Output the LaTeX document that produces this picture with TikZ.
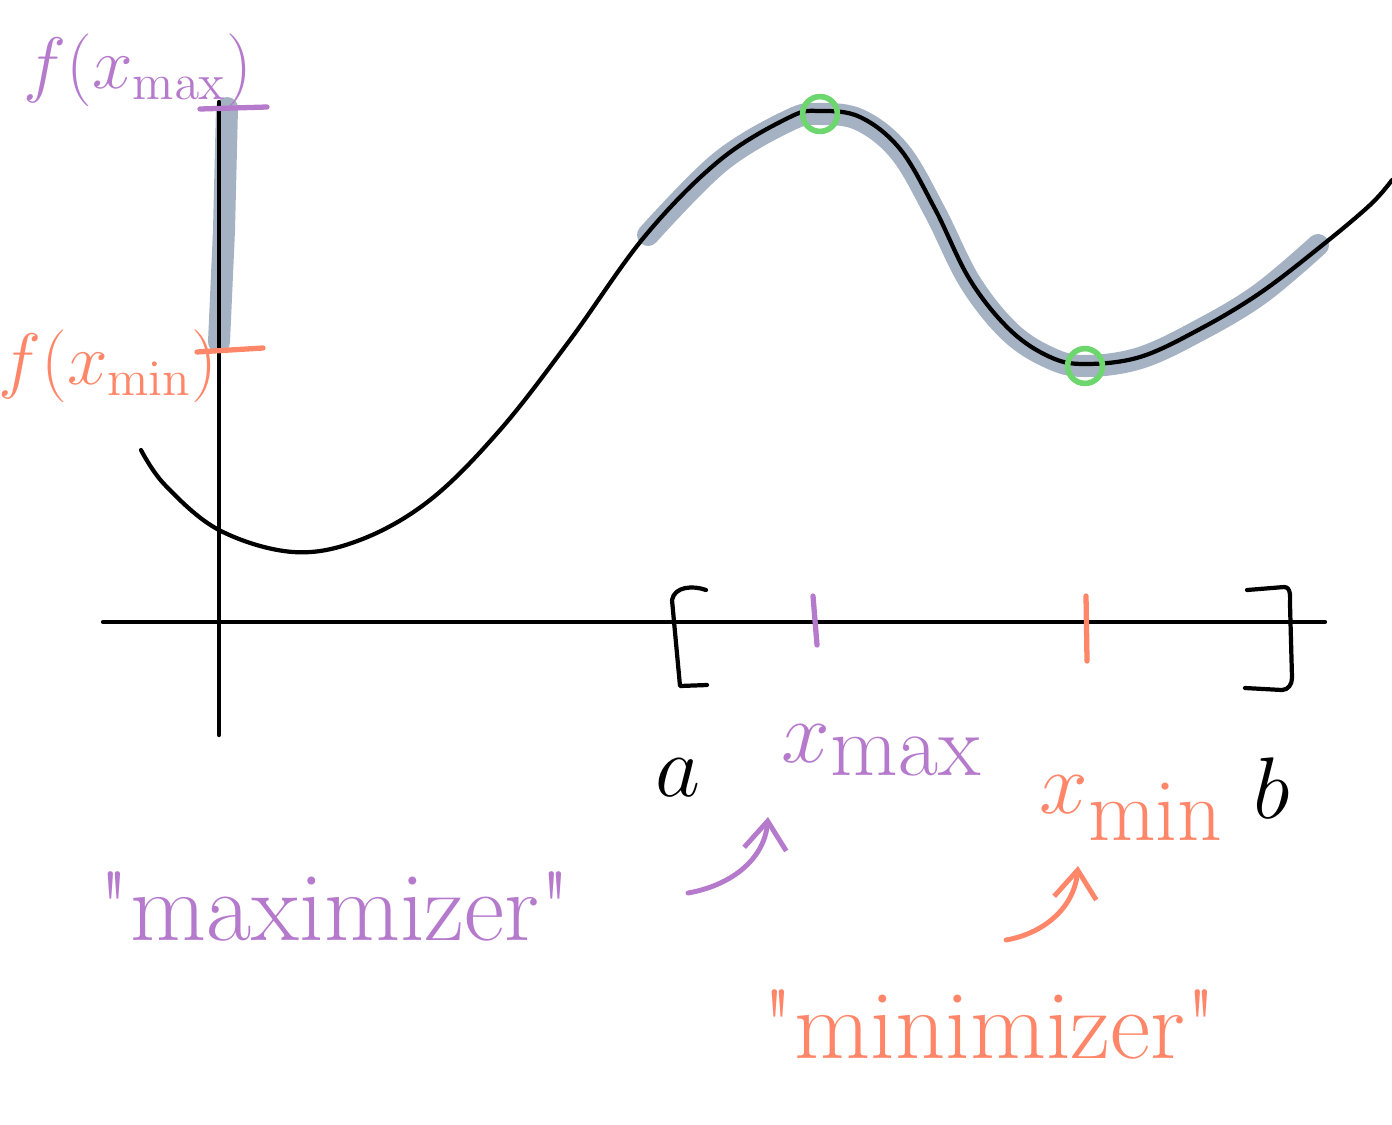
\documentclass[tikz,border=0pt]{standalone}
\usepackage{amsmath,amssymb}
\usetikzlibrary{calc,positioning,arrows.meta}
\definecolor{maxpurple}{RGB}{181,122,204}
\definecolor{minorange}{RGB}{255,134,104}
\definecolor{rangegrey}{RGB}{165,178,195}
\definecolor{pointgreen}{RGB}{110,214,110}

\begin{document}
\begin{tikzpicture}[x=0.01cm, y=-0.01cm, line cap=round, line join=round,
    ink/.style={line width=1.2pt},
    highlight/.style={rangegrey, line width=0.22cm},
    handlabel/.style={inner sep=0pt, font=\fontsize{28}{32}\selectfont},
    pointer/.style={line width=1.4pt, -{Straight Barb[length=8pt, width=12pt]}}]
	\useasboundingbox (0,0) rectangle (1392,1124);

	% grey range on the y axis and on the curve
	\draw[highlight] (227,108) -- (224,230) -- (219,342);
	\draw[highlight] plot[smooth, tension=0.6] coordinates {(648,235) (720,162) (790,120) (820,114) (860,120) (900,152) (935,212) (970,282) (1010,332) (1050,358) (1085,366) (1140,358) (1200,330) (1260,294) (1318,245)};

	% axes
	\node (origin) at (219,622) {};
	\draw[ink] (103,622) -- (1325,622);
	\draw[ink] (219,102) -- (219,735);

	% the function
	\draw[ink] plot[smooth, tension=0.6] coordinates {(141,450) (165,485) (219,530) (293,552) (360,540) (430,500) (500,430) (570,340) (645,236) (720,160) (790,117) (820,111) (860,117) (900,149) (935,209) (970,280) (1010,330) (1050,357) (1085,364) (1140,357) (1200,329) (1260,293) (1320,247) (1370,205) (1392,180)};

	% max and min points
	\node[circle, draw=pointgreen, line width=1.6pt, inner sep=3.5pt] (pmax) at (820,114) {};
	\node[circle, draw=pointgreen, line width=1.6pt, inner sep=3.5pt] (pmin) at (1085,366) {};

	% ticks for f(x_max), f(x_min)
	\draw[maxpurple, line width=1.5pt] (200,109) -- (267,107);
	\draw[minorange, line width=1.5pt] (197,352) -- (263,348);
	\node[handlabel, maxpurple, font=\fontsize{22}{25}\selectfont] (fmax) at (138,70) {$f(x_{\max})$};
	\node[handlabel, minorange, font=\fontsize{21}{24}\selectfont] (fmin) at (108,366) {$f(x_{\min})$};

	% interval [a,b]
	\draw[ink] (706,590) to[out=160, in=80] (672,600) -- (680,686) -- (707,685);
	\draw[ink] (1247,590) -- (1284,587) to[out=0, in=90] (1290,605) -- (1292,678) to[out=-90, in=0] (1282,690) -- (1245,688);
	\draw[maxpurple, line width=1.5pt] (813,596) -- (817,645);
	\draw[minorange, line width=1.5pt] (1086,596) -- (1087,661);

	\node[handlabel, font=\fontsize{36}{40}\selectfont] (a) at (678,778) {$a$};
	\node[handlabel, font=\fontsize{36}{40}\selectfont] (b) at (1272,788) {$b$};
	\node[handlabel, maxpurple, font=\fontsize{34}{38}\selectfont] (xmax) at (882,750) {$x_{\max}$};
	\node[handlabel, minorange, font=\fontsize{34}{38}\selectfont] (xmin) at (1132,808) {$x_{\min}$};

	% names
	\node[handlabel, maxpurple, anchor=base] (maximizer) at (335,940) {\textquotedbl maximizer\textquotedbl};
	\node[handlabel, minorange, anchor=base] (minimizer) at (990,1058) {\textquotedbl minimizer\textquotedbl};

	\coordinate (pmaxfrom) at (688,893);
	\coordinate (pmaxto) at (768,817);
	\coordinate (pminfrom) at (1006,940);
	\coordinate (pminto) at (1078,866);
	\draw[pointer, maxpurple] (pmaxfrom) to[out=10, in=-95] (pmaxto);
	\draw[pointer, minorange] (pminfrom) to[out=10, in=-95] (pminto);
\end{tikzpicture}
\end{document}
